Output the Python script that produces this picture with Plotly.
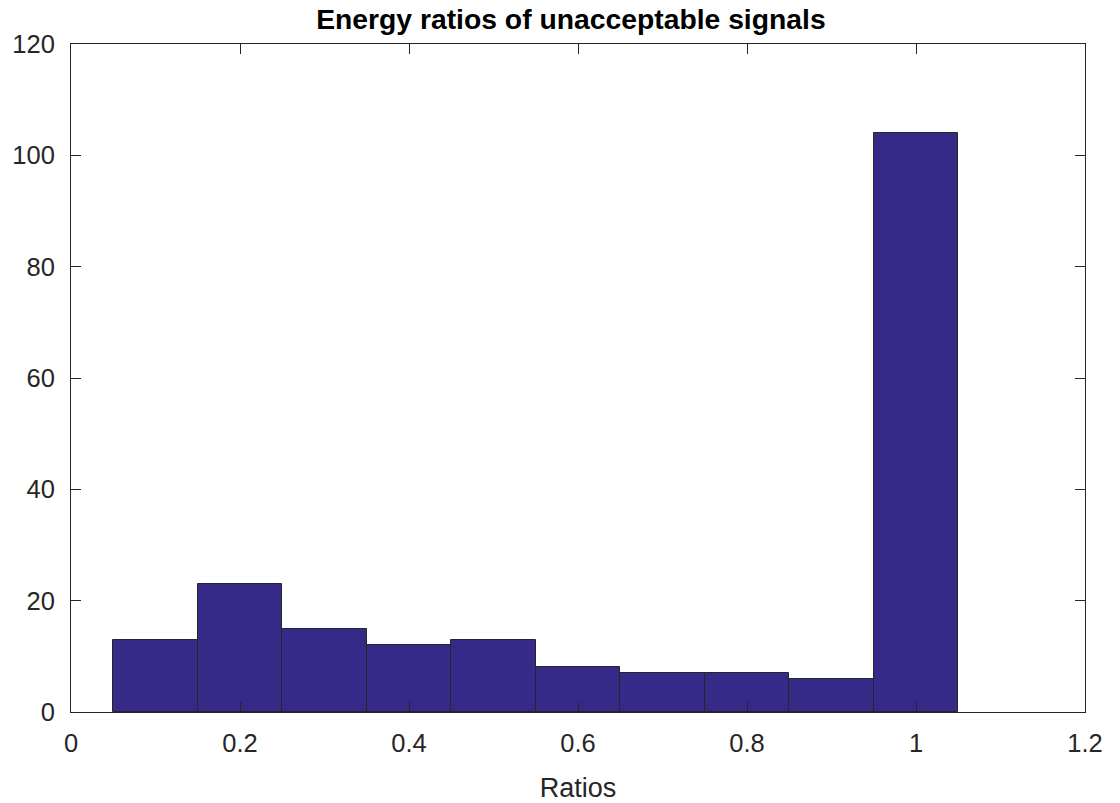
import plotly.graph_objects as go

bin_centers = [0.1, 0.2, 0.3, 0.4, 0.5, 0.6, 0.7, 0.8, 0.9, 1.0]
counts = [13, 23, 15, 12, 13, 8, 7, 7, 6, 104]
bin_width = 0.1
x_ticks = [0, 0.2, 0.4, 0.6, 0.8, 1, 1.2]
x_tick_labels = ["0", "0.2", "0.4", "0.6", "0.8", "1", "1.2"]
y_ticks = [0, 20, 40, 60, 80, 100, 120]

axis_color = "#262626"
font_family = "Liberation Sans, Arial, Helvetica, sans-serif"

fig = go.Figure(
    go.Bar(
        x=bin_centers,
        y=counts,
        width=[bin_width] * len(bin_centers),
        marker=dict(color="#352a87", line=dict(color=axis_color, width=1)),
        hoverinfo="x+y",
    )
)

axis_common = dict(
    showline=True,
    linecolor=axis_color,
    linewidth=1,
    mirror="ticks",
    ticks="inside",
    ticklen=10,
    tickwidth=1,
    tickcolor=axis_color,
    showgrid=False,
    zeroline=False,
    automargin=False,
    tickfont=dict(family=font_family, size=25.5, color=axis_color),
)

fig.update_layout(
    width=1120,
    height=803,
    margin=dict(l=71, r=35, t=44, b=91),
    plot_bgcolor="white",
    paper_bgcolor="white",
    showlegend=False,
    bargap=0,
    title=dict(
        text="<b>Energy ratios of unacceptable signals</b>",
        x=0.493,
        xref="paper",
        xanchor="center",
        y=1,
        yref="container",
        yanchor="top",
        pad=dict(t=9),
        font=dict(family=font_family, size=28.3, color="black"),
    ),
    xaxis=dict(
        range=[0, 1.2],
        tickvals=x_ticks,
        ticktext=x_tick_labels,
        ticklabelstandoff=8,
        title=dict(text="Ratios", font=dict(family=font_family, size=27, color=axis_color), standoff=22),
        **axis_common,
    ),
    yaxis=dict(
        range=[0, 120],
        tickvals=y_ticks,
        ticklabelstandoff=10,
        **axis_common,
    ),
)

fig.write_html("out.html")
